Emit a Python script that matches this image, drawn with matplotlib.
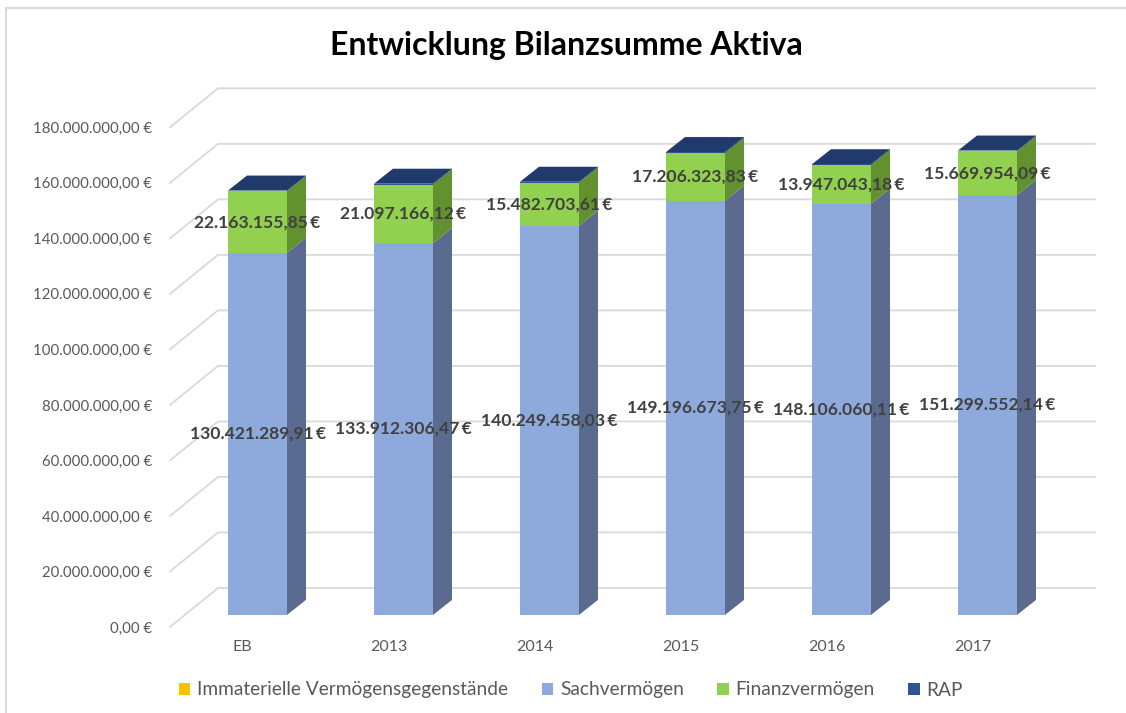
import matplotlib
matplotlib.use("Agg")
import matplotlib.pyplot as plt
from matplotlib.patches import Polygon, Patch
from matplotlib.lines import Line2D
from matplotlib.transforms import ScaledTranslation

# ---------------- data ----------------
categories = ["EB", "2013", "2014", "2015", "2016", "2017"]
immateriell = [60000.0, 55000.0, 50000.0, 45000.0, 40000.0, 35000.0]   # tiny, not visible
sachvermoegen = [130421289.91, 133912306.47, 140249458.03, 149196673.75, 148106060.11, 151299552.14]
finanzvermoegen = [22163155.85, 21097166.12, 15482703.61, 17206323.83, 13947043.18, 15669954.09]
rap = [250000.0, 300000.0, 280000.0, 320000.0, 290000.0, 310000.0]     # tiny, not visible
y_ticks = [0, 20e6, 40e6, 60e6, 80e6, 100e6, 120e6, 140e6, 160e6, 180e6]
series_names = ["Immaterielle Vermögensgegenstände", "Sachvermögen", "Finanzvermögen", "RAP"]

# ---------------- style ----------------
FONT = "Lato"
plt.rcParams["font.family"] = [FONT, "DejaVu Sans"]
front_cols = ["#FFC000", "#8EA9DB", "#92D050", "#2F5597"]
side_cols = ["#B38600", "#5B6B8F", "#62912F", "#1F3864"]
top_col = "#1F3A6B"
grid_col = "#D9D9D9"
tick_col = "#595959"
label_col = "#404040"

W, H, DPI = 1126, 713, 100
fig = plt.figure(figsize=(W / DPI, H / DPI), dpi=DPI)

# pixel geometry
px_cat = 146.0                 # pixels per category step
x0_px = 257.5                  # centre of first bar
y0_px = 615.0                  # bottom of bar front faces (image coords)
px_val = 2.776e-6              # pixels per euro
ymax = 180e6
ax_left = x0_px - 0.5 * px_cat
ax = fig.add_axes([ax_left / W, (H - y0_px) / H, 6 * px_cat / W, ymax * px_val / H])
ax.set_xlim(-0.5, 5.5)
ax.set_ylim(0, ymax)
for s in ax.spines.values():
    s.set_visible(False)
ax.patch.set_alpha(0)

def dx(px):
    return px / px_cat

def dy(px):
    return px / px_val

# chart border (light gray frame running off right/bottom)
fig.add_artist(Line2D([6 / W, 1.0], [1 - 8 / H, 1 - 8 / H], color="#D9D9D9", lw=1.5))
fig.add_artist(Line2D([6 / W, 6 / W], [1 - 8 / H, 0], color="#D9D9D9", lw=1.5))

# gridlines: diagonal side-wall part + horizontal back-wall part
xa = dx(170 - x0_px)
xb = dx(218 - x0_px)
xc = dx(1095 - x0_px)
for v in y_ticks:
    ax.plot([xa, xb, xc], [v - dy(12), v + dy(27), v + dy(27)],
            color=grid_col, lw=1.3, zorder=1, clip_on=False, solid_joinstyle="miter")

# bars
bw = 59.0 / px_cat
ddx, ddy = dx(19), dy(15)
xs = list(range(len(categories)))
series = [immateriell, sachvermoegen, finanzvermoegen, rap]
for i in xs:
    bottom = 0.0
    xl, xr = i - bw / 2, i + bw / 2
    for s_idx, vals in enumerate(series):
        v = vals[i]
        ax.bar(i, v, width=bw, bottom=bottom, color=front_cols[s_idx], lw=0, zorder=3)
        side = Polygon([(xr, bottom), (xr + ddx, bottom + ddy), (xr + ddx, bottom + v + ddy), (xr, bottom + v)],
                       closed=True, facecolor=side_cols[s_idx], edgecolor="none", zorder=3)
        ax.add_patch(side)
        bottom += v
    top = Polygon([(xl, bottom), (xl + ddx, bottom + ddy), (xr + ddx, bottom + ddy), (xr, bottom)],
                  closed=True, facecolor=top_col, edgecolor="none", zorder=3)
    ax.add_patch(top)

def fmt(v):
    s = f"{v:,.2f}".replace(",", "X").replace(".", ",").replace("X", ".")
    return s + "\u2009€"

# value labels
for i in xs:
    b = immateriell[i]
    ax.text(i, b + sachvermoegen[i] / 2, fmt(sachvermoegen[i]), ha="center", va="center",
            fontsize=12.6, fontweight="bold", color=label_col, zorder=10, family=[FONT, "DejaVu Sans"])
    b2 = b + sachvermoegen[i]
    ax.text(i, b2 + finanzvermoegen[i] / 2, fmt(finanzvermoegen[i]), ha="center", va="center",
            fontsize=12.6, fontweight="bold", color=label_col, zorder=10, family=[FONT, "DejaVu Sans"])

# y tick labels
ax.set_yticks(y_ticks)
ax.set_yticklabels([fmt(v).replace("\u2009", " ") for v in y_ticks], fontsize=10.8, color=tick_col)
ax.tick_params(axis="y", length=0, pad=(ax_left - 152) * 0.72)
for lab in ax.get_yticklabels():
    lab.set_transform(lab.get_transform() + ScaledTranslation(0, -12 / DPI, fig.dpi_scale_trans))

# x tick labels
ax.set_xticks(xs)
ax.set_xticklabels(categories, fontsize=11.5, color=tick_col)
ax.tick_params(axis="x", length=0, pad=(640 - y0_px) * 0.72)
for lab in ax.get_xticklabels():
    lab.set_transform(lab.get_transform() + ScaledTranslation(-15 / DPI, 0, fig.dpi_scale_trans))

# title
fig.text(566 / W, 1 - 45 / H, "Entwicklung Bilanzsumme Aktiva", ha="center", va="center",
         fontsize=23, fontweight="bold", color="black")

# legend
handles = [Patch(facecolor=c, edgecolor="none") for c in front_cols]
leg = fig.legend(handles, series_names, loc="center", bbox_to_anchor=(571 / W, 1 - 690 / H), ncol=4,
                 frameon=False, fontsize=13.8, handlelength=0.6, handleheight=0.6, handletextpad=0.35,
                 columnspacing=1.75, labelcolor=tick_col)

fig.savefig("out.png", dpi=DPI)
